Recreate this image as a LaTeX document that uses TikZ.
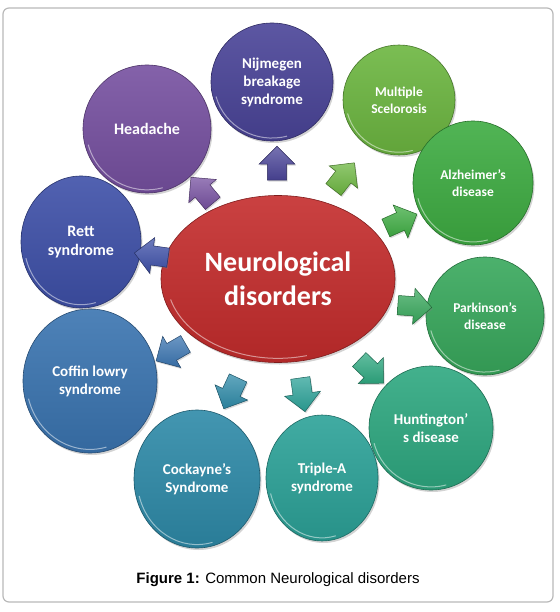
\documentclass[tikz,border=0pt]{standalone}
\usepackage{fontspec}
\setmainfont{Liberation Sans}
\newfontfamily\calib{Carlito}
\usetikzlibrary{
	positioning,
	shapes.geometric,
	shapes.arrows,
	shadows
}

\definecolor{hubred}{RGB}{196,44,44}
\definecolor{nijm}{RGB}{74,68,152}
\definecolor{headc}{RGB}{118,80,160}
\definecolor{rettc}{RGB}{62,80,168}
\definecolor{coffc}{RGB}{58,116,176}
\definecolor{cockc}{RGB}{46,138,168}
\definecolor{tripc}{RGB}{44,162,152}
\definecolor{huntc}{RGB}{46,168,128}
\definecolor{parkc}{RGB}{56,168,92}
\definecolor{alzc}{RGB}{62,172,66}
\definecolor{multc}{RGB}{108,182,64}

\tikzset{
	disorder/.style n args={3}{
		ellipse, minimum width=#2pt, minimum height=#3pt, inner sep=0pt,
		align=center, text=white,
		top color=#1!90!white, bottom color=#1!90!black, draw=#1!65!black, line width=.6pt,
		drop shadow={opacity=.35, shadow xshift=1.5pt, shadow yshift=-2pt},
		path picture={
			\draw[white, opacity=.5, line width=1pt]
				([shift={(75:{0.475*#2} and {0.475*#3})}]path picture bounding box.center)
				arc[start angle=75, end angle=165, x radius={0.475*#2}, y radius={0.475*#3}];
		}
	},
	bigtxt/.style={font=\calib\bfseries\fontsize{16}{19}\selectfont},
	midtxt/.style={font=\calib\bfseries\fontsize{15}{18}\selectfont},
	smalltxt/.style={font=\calib\bfseries\fontsize{13.5}{17}\selectfont},
	blockarrow/.style={
		single arrow, minimum height=34pt, minimum width=36pt,
		single arrow head extend=8pt, inner xsep=0pt, inner ysep=9pt,
		top color=#1!75!white, bottom color=#1!92!black, draw=#1!60!black, line width=.5pt,
		drop shadow={opacity=.3, shadow xshift=1pt, shadow yshift=-1.5pt}
	}
}

\begin{document}
\begin{tikzpicture}[x=1pt,y=-1pt]
	\useasboundingbox (0,0) rectangle (559,612);
	\draw[gray!55, line width=1.2pt, rounded corners=6pt] (3,8) rectangle (553,602);

	% outer ring
	\node[disorder={nijm}{122}{118},  midtxt]   (nijmegen)   at (272,82)  {Nijmegen\\breakage\\syndrome};
	\node[disorder={multc}{112}{110}, smalltxt] (multiple)   at (399,100) {Multiple\\Scelorosis};
	\node[disorder={alzc}{120}{124},  smalltxt] (alzheimer)  at (473,183) {Alzheimer’s\\disease};
	\node[disorder={parkc}{118}{118}, smalltxt] (parkinson)  at (485,316) {Parkinson’s\\disease};
	\node[disorder={huntc}{124}{124}, midtxt]   (huntington) at (431,428) {Huntington’\\s disease};
	\node[disorder={tripc}{112}{126}, midtxt]   (triplea)    at (322,478) {Triple-A\\syndrome};
	\node[disorder={cockc}{126}{138}, midtxt]   (cockayne)   at (197,479) {Cockayne’s\\Syndrome};
	\node[disorder={coffc}{134}{144}, midtxt]   (coffin)     at (90,381)  {Coffin lowry\\syndrome};
	\node[disorder={rettc}{120}{132}, bigtxt]   (rett)       at (81,242)  {Rett\\syndrome};
	\node[disorder={headc}{128}{128}, bigtxt]   (headache)   at (147,129) {Headache};

	% hub
	\node[disorder={hubred}{234}{167}, font=\calib\bfseries\fontsize{28}{34}\selectfont]
		(hub) at (278,279) {Neurological\\disorders};

	% arrows from the hub
	\node[blockarrow=nijm,  rotate=90]   (toNijmegen)   at (277,168) {};
	\node[blockarrow=multc, rotate=52]   (toMultiple)   at (341,180) {};
	\node[blockarrow=alzc,  rotate=24]   (toAlzheimer)  at (397,223) {};
	\node[blockarrow=parkc, rotate=-4]   (toParkinson)  at (410,306) {};
	\node[blockarrow=huntc, rotate=-44]  (toHuntington) at (368,368) {};
	\node[blockarrow=tripc, rotate=-82]  (toTriplea)    at (302,390) {};
	\node[blockarrow=cockc, rotate=-115] (toCockayne)   at (233,389) {};
	\node[blockarrow=coffc, rotate=-150] (toCoffin)     at (175,350) {};
	\node[blockarrow=rettc, rotate=172]  (toRett)       at (156,256) {};
	\node[blockarrow=headc, rotate=130]  (toHeadache)   at (205,194) {};

	\node[font=\fontsize{15}{18}\selectfont] (caption) at (278,580)
		{\textbf{Figure 1:} Common Neurological disorders};
\end{tikzpicture}
\end{document}
